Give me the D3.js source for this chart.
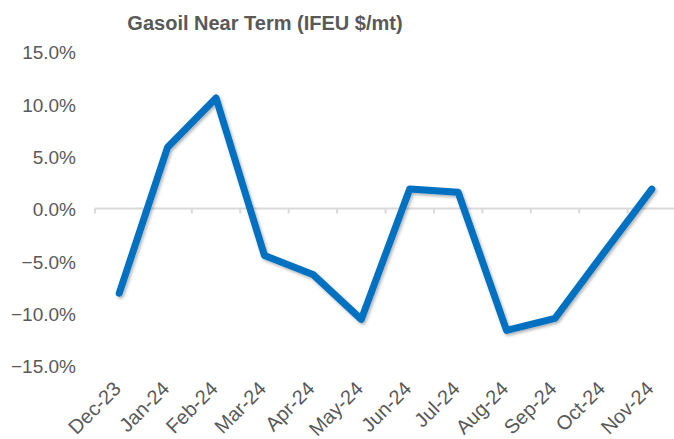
<!DOCTYPE html>
<html>
<head>
<meta charset="utf-8">
<script src="https://cdn.jsdelivr.net/npm/d3@7"></script>
<style>
  body { margin: 0; background: #fff; }
  text { font-family: Arial, "Liberation Sans", sans-serif; fill: #595959; }
</style>
</head>
<body>
<svg id="svg" width="674" height="439"></svg>
<script>
var months = ["Dec-23", "Jan-24", "Feb-24", "Mar-24", "Apr-24", "May-24",
              "Jun-24", "Jul-24", "Aug-24", "Sep-24", "Oct-24", "Nov-24"];
var changePct = [-8.0, 5.95, 10.65, -4.4, -6.2, -10.5, 1.95, 1.65, -11.55, -10.4, -4.2, 1.95];
var yTicks = [15, 10, 5, 0, -5, -10, -15];

var svg = d3.select("#svg");

// drop shadow under the line
var defs = svg.append("defs");
var shadow = defs.append("filter").attr("id", "shadow")
  .attr("x", "-10%").attr("y", "-10%").attr("width", "120%").attr("height", "120%");
shadow.append("feDropShadow")
  .attr("dx", 1.5).attr("dy", 2).attr("stdDeviation", 1.5)
  .attr("flood-color", "#000").attr("flood-opacity", 0.3);

var xScale = d3.scaleBand().domain(months).range([95, 676]).paddingInner(0).paddingOuter(0);
var yScale = d3.scaleLinear().domain([-15, 15]).range([366.5, 52.5]);

// title
svg.append("text")
  .attr("x", 265).attr("y", 30)
  .attr("text-anchor", "middle")
  .style("font-size", "20px").style("font-weight", "bold")
  .text("Gasoil Near Term (IFEU $/mt)");

// y labels
svg.append("g").selectAll("text")
  .data(yTicks)
  .enter()
  .append("text")
  .attr("x", 76)
  .attr("y", function (d) { return yScale(d); })
  .attr("dy", "0.36em")
  .attr("text-anchor", "end")
  .style("font-size", "19px")
  .text(function (d) { return d3.format(".1f")(d) + "%"; });

// zero axis with ticks at band edges
var axisG = svg.append("g");
var y0 = yScale(0) - 1;
axisG.append("line")
  .attr("x1", xScale.range()[0]).attr("x2", xScale.range()[1])
  .attr("y1", y0).attr("y2", y0)
  .attr("stroke", "#D9D9D9").attr("stroke-width", 2);
var edges = months.map(function (m) { return xScale(m); }).concat([xScale.range()[1]]);
axisG.selectAll("line.tick")
  .data(edges)
  .enter()
  .append("line")
  .classed("tick", true)
  .attr("x1", function (d) { return d; }).attr("x2", function (d) { return d; })
  .attr("y1", y0).attr("y2", y0 + 5)
  .attr("stroke", "#D9D9D9").attr("stroke-width", 2);

// x labels rotated
svg.append("g").selectAll("text")
  .data(months)
  .enter()
  .append("text")
  .attr("text-anchor", "end")
  .style("font-size", "20px")
  .attr("transform", function (d) {
    var x = xScale(d) + xScale.bandwidth() / 2 + 3;
    return "translate(" + x + ",390) rotate(-45)";
  })
  .text(function (d) { return d; });

// line
var line = d3.line()
  .x(function (d, i) { return xScale(months[i]) + xScale.bandwidth() / 2; })
  .y(function (d) { return yScale(d); });

svg.append("path")
  .datum(changePct)
  .attr("d", line)
  .attr("fill", "none")
  .attr("stroke", "#0070C0")
  .attr("stroke-width", 7)
  .attr("stroke-linejoin", "round")
  .attr("stroke-linecap", "round")
  .attr("filter", "url(#shadow)");
</script>
</body>
</html>
